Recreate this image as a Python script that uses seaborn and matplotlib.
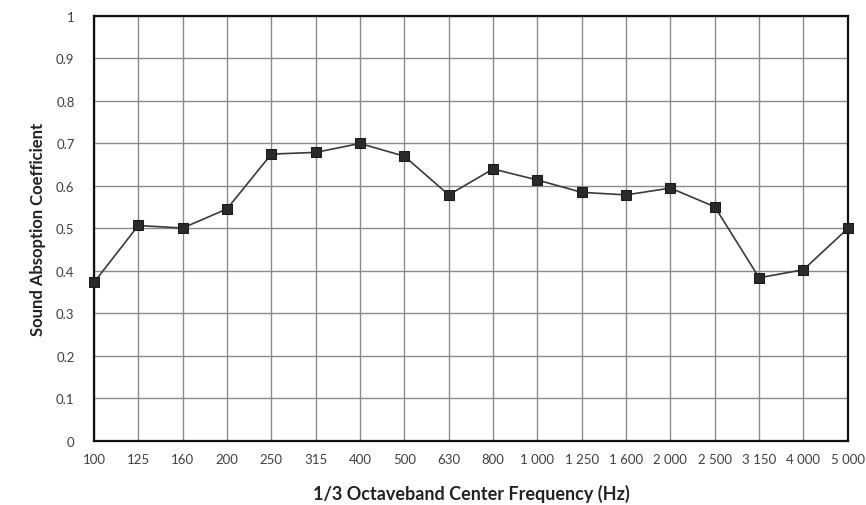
import pandas as pd
import seaborn as sns
import matplotlib.pyplot as plt

freqs = ["100", "125", "160", "200", "250", "315", "400", "500", "630", "800",
         "1 000", "1 250", "1 600", "2 000", "2 500", "3 150", "4 000", "5 000"]
alpha = [0.373, 0.507, 0.501, 0.546, 0.675, 0.679, 0.700, 0.670, 0.579, 0.640,
         0.614, 0.585, 0.579, 0.595, 0.551, 0.384, 0.403, 0.500]
yticks = [0, 0.1, 0.2, 0.3, 0.4, 0.5, 0.6, 0.7, 0.8, 0.9, 1]
ytick_labels = ["0", "0.1", "0.2", "0.3", "0.4", "0.5", "0.6", "0.7", "0.8", "0.9", "1"]

df = pd.DataFrame({"freq": freqs, "alpha": alpha})

sns.set_style("white")
plt.rcParams['font.family'] = ['Lato', 'DejaVu Sans']

fig = plt.figure(figsize=(8.66, 5.06), dpi=100)
ax = fig.add_axes([0.1085, 0.1265, 0.8705, 0.84])

sns.lineplot(data=df, x="freq", y="alpha", ax=ax, color="#3a3a3a", linewidth=1.2,
             marker="s", markersize=7.5, markerfacecolor="#2a2a2a",
             markeredgecolor="#1a1a1a", sort=False, clip_on=False, zorder=5)

ax.set_xlim(0, len(freqs) - 1)
ax.set_ylim(0, 1)
ax.set_yticks(yticks)
ax.set_yticklabels(ytick_labels)
ax.grid(True, color="#8a8a8a", linewidth=1.0)
ax.set_axisbelow(True)
for s in ax.spines.values():
    s.set_color("#111111")
    s.set_linewidth(1.6)
ax.tick_params(axis="both", length=0, labelsize=9.5, labelcolor="#404040")
ax.tick_params(axis="x", pad=9)
ax.tick_params(axis="y", pad=14)

ax.set_xlabel("1/3 Octaveband Center Frequency (Hz)", fontsize=13, fontweight="bold",
              color="#222222", labelpad=13)
ax.set_ylabel("Sound Absoption Coefficient", fontsize=12, fontweight="bold",
              color="#222222", labelpad=7)

fig.savefig("out.png", dpi=100)
